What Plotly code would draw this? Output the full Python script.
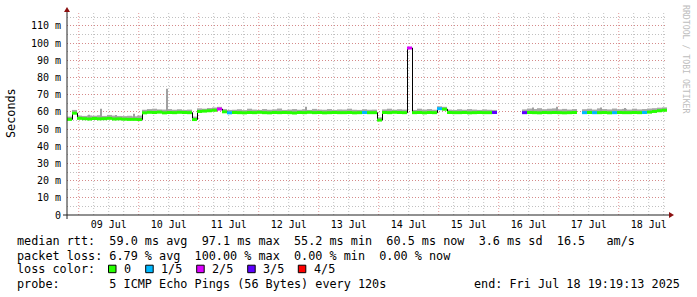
import plotly.graph_objects as go
import pandas as pd

# ---------------- data ----------------
start = pd.Timestamp("2025-07-08 19:19:13")
end = pd.Timestamp("2025-07-18 19:19:13")
times = list(pd.date_range(start, periods=121, freq="2h"))  # 2-hour steps

median_ms = [
    55.6, 59.2, 56.2, 56.0, 55.8, 56.1, 55.9, 56.0, 56.2, 55.8,
    55.9, 55.7, 55.6, 55.6, 55.5, 59.4, 59.7, 59.6, 59.8, 59.4,
    59.6, 59.5, 59.7, 59.6, 59.5, 55.5, 60.2, 60.4, 60.6, 60.9,
    61.6, 60.0, 59.4, 59.6, 59.5, 59.4, 59.6, 59.5, 59.7, 59.5,
    59.4, 59.6, 59.5, 59.6, 59.5, 59.3, 59.6, 59.5, 59.7, 59.5,
    59.6, 59.4, 59.5, 59.6, 59.5, 59.5, 59.6, 59.4, 59.5, 59.6,
    59.5, 59.5, 55.2, 59.6, 59.5, 59.7, 59.6, 59.5, 97.1, 59.5,
    59.6, 59.4, 59.6, 59.5, 61.8, 61.5, 59.6, 59.5, 59.5, 59.6,
    59.4, 59.5, 59.6, 59.5, 59.5, 59.6, None, None, None, None,
    None, 59.5, 59.6, 59.5, 59.4, 59.6, 59.5, 59.6, 59.5, 59.4,
    59.5, 59.6, None, 59.5, 59.6, 59.5, 59.5, 59.6, 59.4, 59.5,
    59.6, 59.5, 59.5, 59.6, 59.5, 59.6, 59.8, 60.2, 60.6, 60.9,
]

smoke_top_ms = [
    57.2, 61.1, 57.8, 57.6, 57.9, 57.7, 58.0, 57.6, 58.2, 57.8,
    57.6, 57.5, 57.7, 57.4, 57.8, 61.2, 61.6, 61.8, 61.4, 61.3,
    61.6, 61.2, 61.5, 61.1, 61.3, 57.2, 62.0, 61.8, 62.2, 62.5,
    62.9, 61.6, 61.1, 61.2, 61.5, 61.0, 61.8, 61.3, 61.1, 61.6,
    61.2, 61.4, 61.9, 61.1, 61.3, 61.6, 61.2, 61.5, 61.1, 61.7,
    61.3, 61.2, 61.6, 61.1, 61.4, 61.3, 61.8, 61.2, 61.1, 61.5,
    61.2, 61.3, 56.8, 61.4, 61.8, 61.2, 61.5, 61.3, 97.4, 61.1,
    61.8, 61.3, 61.6, 61.2, 63.2, 62.9, 61.3, 61.1, 61.5, 61.2,
    61.6, 61.3, 61.1, 61.4, 61.2, 61.1, None, None, None, None,
    None, 61.4, 61.9, 61.6, 62.1, 61.5, 61.8, 62.0, 61.4, 61.7,
    61.3, 61.6, None, 61.5, 61.8, 61.3, 62.0, 61.6, 61.4, 61.9,
    61.5, 61.7, 61.3, 61.8, 61.4, 61.6, 61.9, 62.1, 62.4, 62.6,
]

# lost pings (of 5) per step
loss_count = [
    0, 0, 0, 0, 0, 0, 0, 0, 0, 0,
    0, 0, 0, 0, 0, 0, 0, 0, 0, 0,
    0, 0, 0, 0, 0, 0, 0, 0, 0, 0,
    2, 0, 1, 0, 0, 0, 0, 0, 0, 0,
    0, 0, 0, 0, 0, 0, 0, 0, 0, 0,
    0, 0, 0, 0, 0, 0, 0, 0, 0, 1,
    0, 0, 0, 0, 0, 0, 0, 0, 2, 0,
    0, 0, 0, 0, 1, 0, 0, 0, 0, 0,
    0, 0, 0, 0, 0, 3, 0, 0, 0, 0,
    0, 3, 0, 0, 0, 0, 0, 0, 0, 0,
    0, 0, 0, 1, 0, 1, 0, 0, 0, 1,
    0, 0, 0, 0, 0, 1, 0, 0, 0, 0,
]

# isolated smoke spikes: hours after start, top value (ms)
spike_hours = [8.4, 13.2, 19.2, 26.7, 39.6, 95.2, 186.0, 195.6, 213.5, 223.0]
spike_ms = [58.3, 61.8, 58.2, 58.8, 73.4, 63.0, 62.5, 63.0, 62.5, 62.2]

loss_labels = ["0", "1/5", "2/5", "3/5", "4/5"]
loss_colors = ["#26ff00", "#00b8ff", "#dd00ff", "#5e00ff", "#ff0000"]

day_ticks = list(pd.date_range("2025-07-09 12:00", "2025-07-18 12:00", freq="D"))
y_tickvals = [0, 10, 20, 30, 40, 50, 60, 70, 80, 90, 100, 110]
y_ticktext = ["0", "10 m", "20 m", "30 m", "40 m", "50 m", "60 m",
              "70 m", "80 m", "90 m", "100 m", "110 m"]

stats_line1 = "median rtt:  59.0 ms avg  97.1 ms max  55.2 ms min  60.5 ms now  3.6 ms sd  16.5   am/s"
stats_line2 = "packet loss: 6.79 % avg  100.00 % max  0.00 % min  0.00 % now"
stats_line3 = "loss color:"
stats_line4 = "probe:       5 ICMP Echo Pings (56 Bytes) every 120s"
end_text = "end: Fri Jul 18 19:19:13 2025"
watermark = "RRDTOOL / TOBI OETIKER"

# ---------------- geometry helpers (pixel -> paper) ----------------
L, R, T, B = 67, 667, 13, 215
W, H = R - L, B - T
def px(x): return (x - L) / W
def py(y): return (B - y) / H
def nb(s): return s.replace(" ", "\u00a0")

MONO = "DejaVu Sans Mono"
STEP_MS = 2 * 3600 * 1000
HALF_PX = pd.Timedelta(minutes=12)  # render offset so 1px lines land on pixel centres

fig = go.Figure()

# smoke band
sx, sbase, sh = [], [], []
for i, (m, t) in enumerate(zip(median_ms, smoke_top_ms)):
    if m is None or t is None:
        continue
    sx.append(times[i]); sbase.append(m); sh.append(t - m)
fig.add_trace(go.Bar(x=sx, y=sh, base=sbase, width=STEP_MS, offset=0,
                     marker=dict(color="#a8a8a8", line=dict(width=0)), hoverinfo="skip"))

# smoke spikes
kx, kbase, kh = [], [], []
for h, v in zip(spike_hours, spike_ms):
    m = median_ms[int(h // 2)]
    kx.append(start + pd.Timedelta(hours=h)); kbase.append(m); kh.append(v - m)
fig.add_trace(go.Bar(x=kx, y=kh, base=kbase, width=24 * 60 * 1000 * 1.2, offset=0,
                     marker=dict(color="#a0a0a0", line=dict(width=0)), hoverinfo="skip"))

# black step line
fig.add_trace(go.Scatter(x=[t + HALF_PX for t in times], y=median_ms + [median_ms[-1]], mode="lines",
                         line=dict(color="black", width=1, shape="hv"),
                         connectgaps=False, hoverinfo="skip"))

# median coloured by loss
for k, col in enumerate(loss_colors):
    xs, ys = [], []
    for i, m in enumerate(median_ms):
        if m is None or loss_count[i] != k:
            continue
        xs += [times[i], times[i + 1], None]
        ys += [m, m, None]
    if xs:
        fig.add_trace(go.Scatter(x=xs, y=ys, mode="lines",
                                 line=dict(color=col, width=3), hoverinfo="skip"))

shapes = []
# vertical grid
for t in pd.date_range("2025-07-09 00:00", "2025-07-18 18:00", freq="6h"):
    major = t.hour == 0
    shapes.append(dict(type="line", xref="x", yref="paper", x0=t, x1=t, y0=0, y1=1,
                       line=dict(color="rgba(220,120,120,0.75)" if major else "rgba(150,150,150,0.6)",
                                 width=1, dash="1px,2px"), layer="below"))
# axes lines and arrows
AX = "#222222"
shapes.append(dict(type="line", xref="paper", yref="paper", x0=px(67), x1=px(67),
                   y0=py(219), y1=py(11), line=dict(color=AX, width=1)))
shapes.append(dict(type="line", xref="paper", yref="paper", x0=px(63), x1=px(670),
                   y0=py(215), y1=py(215), line=dict(color=AX, width=1)))
ARROW = "#8b1010"
shapes.append(dict(type="path", xref="paper", yref="paper",
                   path=f"M {px(64)} {py(12)} L {px(70)} {py(12)} L {px(67)} {py(7)} Z",
                   fillcolor=ARROW, line=dict(color=ARROW, width=0)))
shapes.append(dict(type="path", xref="paper", yref="paper",
                   path=f"M {px(669)} {py(212)} L {px(669)} {py(218)} L {px(674)} {py(215)} Z",
                   fillcolor=ARROW, line=dict(color=ARROW, width=0)))
# loss colour boxes
box_x = [108.5, 145.7, 196.7, 247.7, 298.3]
for bx, col in zip(box_x, loss_colors):
    shapes.append(dict(type="rect", xref="paper", yref="paper",
                       x0=px(bx), x1=px(bx + 7.5), y0=py(272.7), y1=py(265.2),
                       fillcolor=col, line=dict(color="black", width=1)))

ann = []
def text(x, y, s, size=11.8, anchor="left", color="black", angle=0):
    ann.append(dict(xref="paper", yref="paper", x=px(x), y=py(y), text=nb(s),
                    showarrow=False, xanchor=anchor, yanchor="middle", textangle=angle,
                    borderpad=0, font=dict(family=MONO, size=size, color=color)))

text(15.5, 241, stats_line1)
text(15.5, 255.5, stats_line2)
text(15.5, 269, stats_line3)
text(15.5, 283.5, stats_line4)
text(681, 283.5, end_text, anchor="right")
label_x = [122.6, 160.0, 211.0, 262.0, 312.6]
for lx, lab in zip(label_x, loss_labels):
    text(lx, 269, lab)
text(11, 113, "Seconds", anchor="center", angle=-90)
text(686, 59, watermark, size=8.2, anchor="center", color="#bdbdbd", angle=90)

fig.update_layout(
    width=697, height=297,
    margin=dict(l=L, r=697 - R, t=T, b=297 - B, pad=0),
    paper_bgcolor="white", plot_bgcolor="white",
    showlegend=False, barmode="overlay",
    font=dict(family=MONO, size=10, color="black"),
    shapes=shapes, annotations=ann,
    xaxis=dict(type="date", range=[start, end], tickvals=day_ticks, tickformat="%d %b",
               showgrid=False, zeroline=False, showline=False, ticks="", ticklabelstandoff=2,
               tickfont=dict(family=MONO, size=10, color="black"), fixedrange=True),
    yaxis=dict(range=[0, (B - T) / 1.72], tickvals=y_tickvals, ticktext=y_ticktext,
               showgrid=True, gridcolor="rgba(220,120,120,0.75)", griddash="1px,2px", gridwidth=1,
               minor=dict(dtick=5, tick0=0, showgrid=True, gridcolor="rgba(150,150,150,0.6)",
                          griddash="1px,2px", gridwidth=1),
               zeroline=False, showline=False, ticks="", ticklabelstandoff=5,
               tickfont=dict(family=MONO, size=10, color="black"), fixedrange=True),
)

fig.write_html("out.html")
